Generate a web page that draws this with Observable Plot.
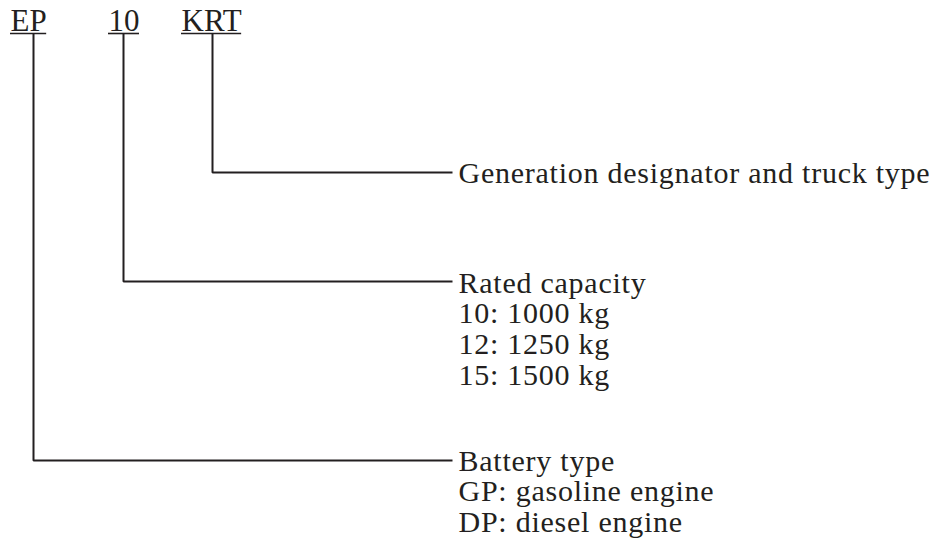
<!DOCTYPE html>
<html>
<head>
<meta charset="utf-8">
<script src="https://cdn.jsdelivr.net/npm/d3@7"></script>
<script src="https://cdn.jsdelivr.net/npm/@observablehq/plot@0.6"></script>
<style>
  html, body { margin: 0; padding: 0; background: #fff; }
  #chart svg { display: block; }
</style>
</head>
<body>
<div id="chart"></div>
<script>
// ---- data ----
const codes = ["EP", "10", "KRT"];
const batteryLines = ["Battery type", "GP: gasoline engine", "DP: diesel engine"];
const capacityLines = ["Rated capacity", "10: 1000 kg", "12: 1250 kg", "15: 1500 kg"];
const generationLines = ["Generation designator and truck type"];

// ---- layout (pixel space of the 937x557 figure) ----
const W = 937, H = 557;
const codeFontSize = 31;
const labelFontSize = 30;
const fontFamily = "'Liberation Serif', 'Times New Roman', serif";
const ink = "#231f20";
const codeX = [10, 108, 181];       // left edge of each code
const stemX = [33, 123, 212];       // x of each vertical leader
const branchY = [460, 281, 172];    // y of each horizontal leader
const firstBaseline = [470, 292, 182];
const lineStep = 30.7;
const codeBaseline = 30;
const underlineY = 33;
const labelX = 458;
const leaderEnd = 452;

const groups = [batteryLines, capacityLines, generationLines];

// measure text widths for underlines
const ctx = document.createElement("canvas").getContext("2d");
ctx.font = `${codeFontSize}px ${fontFamily}`;

const codeData = codes.map((c, i) => ({
  text: c,
  x: codeX[i],
  y: codeBaseline - 0.71 * codeFontSize,
  x1: codeX[i],
  x2: codeX[i] + ctx.measureText(c).width,
  uy: underlineY
}));

const labelData = groups.flatMap((lines, g) =>
  lines.map((t, j) => ({
    text: t,
    x: labelX,
    y: firstBaseline[g] + j * lineStep - 0.71 * labelFontSize
  }))
);

const leaders = codes.map((c, i) => [
  { x: stemX[i], y: underlineY, id: i },
  { x: stemX[i], y: branchY[i], id: i },
  { x: leaderEnd, y: branchY[i], id: i }
]).flat();

const plot = Plot.plot({
  width: W,
  height: H,
  margin: 0,
  x: { domain: [0, W], range: [0, W], axis: null },
  y: { domain: [0, H], range: [0, H], axis: null },
  style: { background: "#fff" },
  marks: [
    Plot.line(leaders, { x: "x", y: "y", z: "id", stroke: ink, strokeWidth: 2, strokeLinejoin: "miter", strokeLinecap: "butt" }),
    Plot.ruleY(codeData, { y: "uy", x1: "x1", x2: "x2", stroke: ink, strokeWidth: 1.6 }),
    Plot.text(codeData, { x: "x", y: "y", text: "text", textAnchor: "start", lineAnchor: "top", fontSize: codeFontSize, fontFamily, fill: ink }),
    Plot.text(labelData, { x: "x", y: "y", text: "text", textAnchor: "start", lineAnchor: "top", fontSize: labelFontSize, fontFamily, fill: ink, style: "letter-spacing:0.75px" })
  ]
});
plot.querySelectorAll("g[aria-label='text']").forEach((g, i) => { if (i === 1) g.setAttribute("letter-spacing", "0.75"); });
document.getElementById("chart").appendChild(plot);
</script>
</body>
</html>
